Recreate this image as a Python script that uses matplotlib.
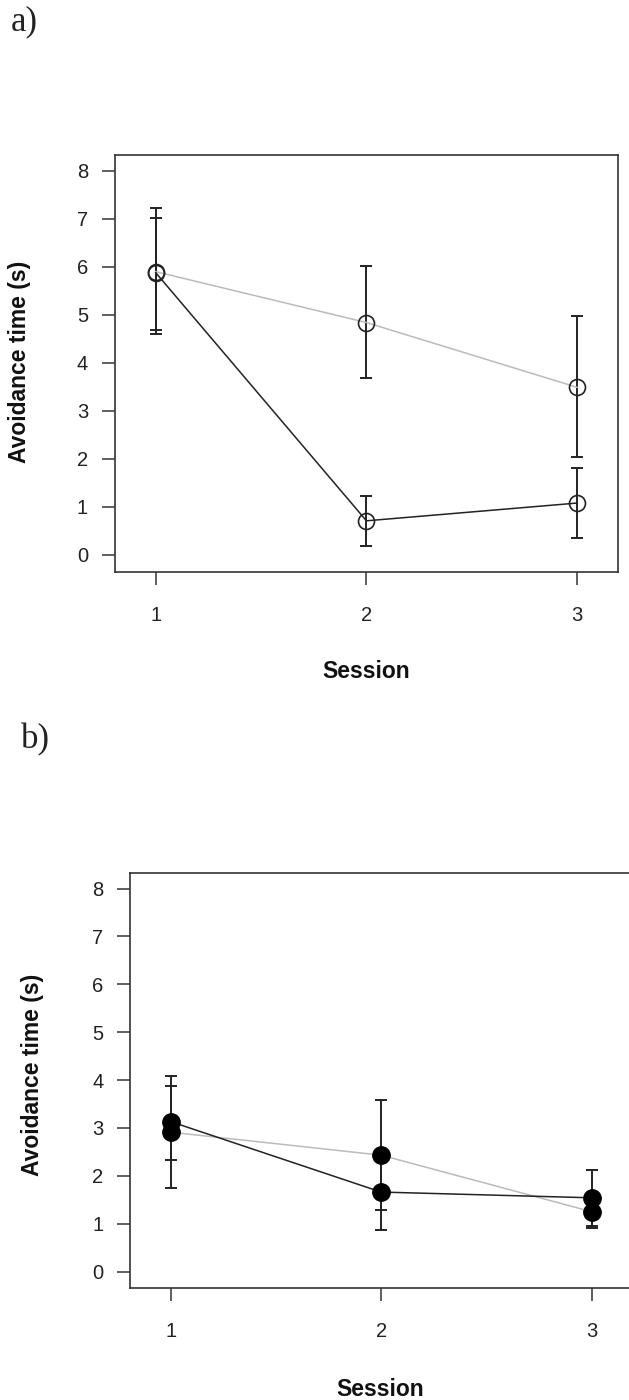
import matplotlib
matplotlib.use("Agg")
import matplotlib.pyplot as plt

plt.rcParams['font.family'] = ['Liberation Sans', 'DejaVu Sans']

sessions = [1, 2, 3]
yticks = [0, 1, 2, 3, 4, 5, 6, 7, 8]

# panel a (open circles)
a_grey_mean = [5.90, 4.84, 3.49]
a_grey_low = [4.60, 3.68, 2.03]
a_grey_high = [7.22, 6.02, 4.98]
a_black_mean = [5.88, 0.71, 1.08]
a_black_low = [4.68, 0.19, 0.35]
a_black_high = [7.01, 1.23, 1.80]

# panel b (filled circles)
b_grey_mean = [2.91, 2.43, 1.25]
b_grey_low = [1.75, 1.29, 0.90]
b_grey_high = [4.09, 3.58, 1.60]
b_black_mean = [3.13, 1.66, 1.54]
b_black_low = [2.33, 0.86, 0.96]
b_black_high = [3.87, 2.46, 2.12]

W, H = 629, 1400
fig = plt.figure(figsize=(W / 100, H / 100), dpi=100)


def box(l, r, t, b):
    return [l / W, 1 - b / H, (r - l) / W, (b - t) / H]


def panel(ax, series, filled):
    for mean, low, high, col in series:
        err = [[m - lo for m, lo in zip(mean, low)], [hi - m for m, hi in zip(mean, high)]]
        ax.errorbar(sessions, mean, yerr=err, fmt='none', ecolor='#222222',
                    elinewidth=1.4, capsize=4, capthick=1.4, zorder=2)
        ax.plot(sessions, mean, color=col, lw=1.1, zorder=3)
        if filled:
            ax.plot(sessions, mean, 'o', ms=12.5, mfc='black', mec='black', zorder=4)
        else:
            ax.plot(sessions, mean, 'o', ms=11.5, mfc='none', mec='#222222', mew=1.2, zorder=4)
    ax.set_xlim(0.808, 3.192)
    ax.set_ylim(-0.35, 8.33)
    ax.set_xticks(sessions)
    ax.set_yticks(yticks)
    ax.tick_params(axis='both', labelsize=14.5, length=9.5, width=1.1, color='#333333',
                   labelcolor='#222222')
    ax.tick_params(axis='x', pad=15)
    ax.tick_params(axis='y', pad=10)
    for s in ax.spines.values():
        s.set_linewidth(1.2)
        s.set_color('#333333')


ax1 = fig.add_axes(box(115.2, 617.7, 155, 571.7))
panel(ax1, [(a_grey_mean, a_grey_low, a_grey_high, '#bbbbbb'),
            (a_black_mean, a_black_low, a_black_high, '#222222')], filled=False)

ax2 = fig.add_axes(box(130.4, 632, 872.7, 1288.3))
panel(ax2, [(b_grey_mean, b_grey_low, b_grey_high, '#bbbbbb'),
            (b_black_mean, b_black_low, b_black_high, '#222222')], filled=True)

# labels
fig.text(20 / W, 1 - 362 / H, "Avoidance time (s)", rotation=90, ha='center', va='center',
         fontsize=16.5, fontweight='bold', color='#111111')
fig.text(366 / W, 1 - 672 / H, "Session", ha='center', va='center',
         fontsize=16.5, fontweight='bold', color='#111111')
fig.text(33 / W, 1 - 1075 / H, "Avoidance time (s)", rotation=90, ha='center', va='center',
         fontsize=16.5, fontweight='bold', color='#111111')
fig.text(380 / W, 1 - 1390 / H, "Session", ha='center', va='center',
         fontsize=16.5, fontweight='bold', color='#111111')

fig.text(11 / W, 1 - 22 / H, "a)", ha='left', va='center', fontsize=25,
         family='Liberation Serif', color='#222222')
fig.text(21 / W, 1 - 740 / H, "b)", ha='left', va='center', fontsize=25,
         family='Liberation Serif', color='#222222')

fig.savefig("out.png", dpi=100)
